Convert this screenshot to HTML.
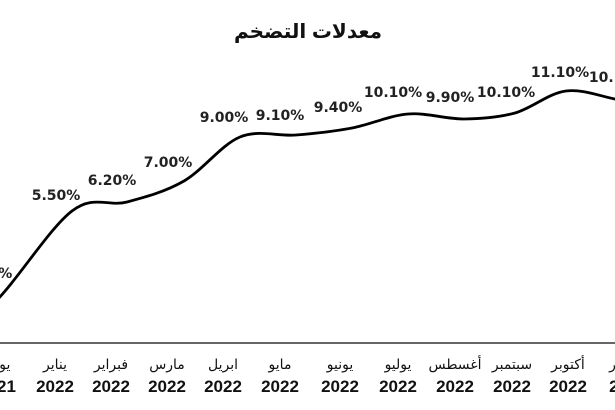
<!DOCTYPE html>
<html><head><meta charset="utf-8"><style>
html,body{margin:0;padding:0;background:#fff;}
svg{display:block;}
.l{font-family:"DejaVu Sans","Liberation Sans",sans-serif;font-weight:bold;font-size:14px;fill:#222;text-anchor:middle;}
.m{font-family:"Liberation Sans","DejaVu Sans",sans-serif;font-size:14px;fill:#111;text-anchor:middle;}
.y{font-family:"Liberation Sans",sans-serif;font-weight:bold;font-size:17px;fill:#111;text-anchor:middle;}
</style></head><body>
<svg width="615" height="410" viewBox="0 0 615 410" xmlns="http://www.w3.org/2000/svg">
<text x="308" y="38" font-family="Liberation Sans, DejaVu Sans, sans-serif" font-weight="bold" font-size="20" text-anchor="middle" fill="#111">معدلات التضخم</text>
<path id="p" d="" fill="none" stroke="#000" stroke-width="2.8"/>
<line x1="0" y1="343" x2="615" y2="343" stroke="#333" stroke-width="1.6"/>
<text class="l" x="56" y="200">5.50%</text>
<text class="l" x="112" y="185">6.20%</text>
<text class="l" x="168" y="167">7.00%</text>
<text class="l" x="224" y="122">9.00%</text>
<text class="l" x="280" y="120">9.10%</text>
<text class="l" x="338" y="112">9.40%</text>
<text class="l" x="393" y="97">10.10%</text>
<text class="l" x="450" y="102">9.90%</text>
<text class="l" x="506" y="97">10.10%</text>
<text class="l" x="560" y="77">11.10%</text>
<text class="l" x="618" y="82">10.10%</text>
<text class="l" x="-12" y="278">4.90%</text>
<g>
<text class="m" x="-3" y="369">يوليو</text><text class="y" x="-3" y="392">2021</text>
<text class="m" x="55" y="369">يناير</text><text class="y" x="55" y="392">2022</text>
<text class="m" x="111" y="369">فبراير</text><text class="y" x="111" y="392">2022</text>
<text class="m" x="167" y="369">مارس</text><text class="y" x="167" y="392">2022</text>
<text class="m" x="223" y="369">ابريل</text><text class="y" x="223" y="392">2022</text>
<text class="m" x="280" y="369">مايو</text><text class="y" x="280" y="392">2022</text>
<text class="m" x="340" y="369">يونيو</text><text class="y" x="340" y="392">2022</text>
<text class="m" x="398" y="369">يوليو</text><text class="y" x="398" y="392">2022</text>
<text class="m" x="455" y="369">أغسطس</text><text class="y" x="455" y="392">2022</text>
<text class="m" x="512" y="369">سبتمبر</text><text class="y" x="512" y="392">2022</text>
<text class="m" x="568" y="369">أكتوبر</text><text class="y" x="568" y="392">2022</text>
<text class="m" x="628" y="369">نوفمبر</text><text class="y" x="628" y="392">2022</text>
</g>
</svg>
<script>
var P=[[-60,340],[-5,302],[72,211],[127,202],[184,181],[240,137],[296,135],[352,128],[408,114],[464,119],[515,113],[566,91],[620,100],[680,110]];
var d="M"+P[1][0]+","+P[1][1];
for(var i=1;i<P.length-2;i++){var p0=P[i-1],p1=P[i],p2=P[i+1],p3=P[i+2];
var c1=[p1[0]+(p2[0]-p0[0])/6,p1[1]+(p2[1]-p0[1])/6],c2=[p2[0]-(p3[0]-p1[0])/6,p2[1]-(p3[1]-p1[1])/6];
d+=" C"+c1[0]+","+c1[1]+" "+c2[0]+","+c2[1]+" "+p2[0]+","+p2[1];}
document.getElementById("p").setAttribute("d",d);
</script>
</body></html>
